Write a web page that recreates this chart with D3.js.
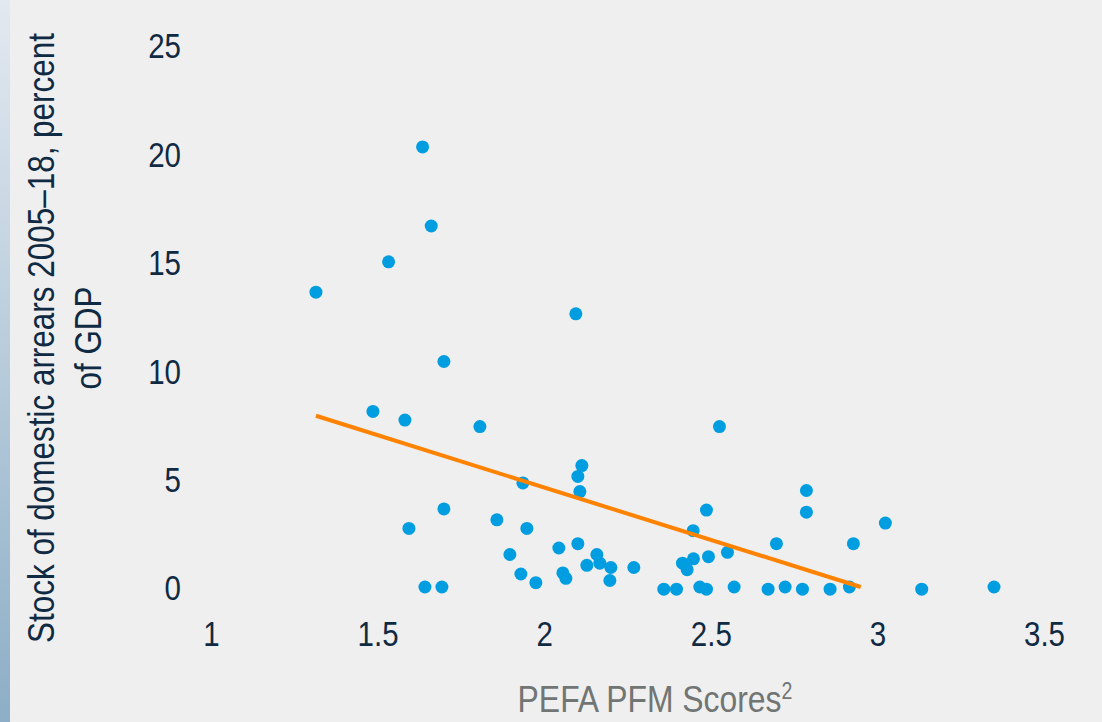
<!DOCTYPE html>
<html>
<head>
<meta charset="utf-8">
<script src="https://cdn.jsdelivr.net/npm/d3@7"></script>
<style>
  body { margin: 0; background: #efefef; }
  #chart { width: 1102px; height: 722px; }
  text { font-family: 'Liberation Sans', Arial, sans-serif; }
</style>
</head>
<body>
<div id="chart"></div>
<script>
// ------------- Data ---------------------------------------- //
const pefaScores = [
  1.315, 1.533, 1.635, 1.661, 1.486, 1.582, 1.699, 1.807, 1.594, 1.699,
  1.642, 1.693, 2.095, 1.936, 2.113, 2.101, 2.107, 1.858, 1.948, 1.897,
  1.930, 1.975, 2.044, 2.101, 2.056, 2.065, 2.128, 2.158, 2.167, 2.200,
  2.197, 2.269, 2.526, 2.787, 2.787, 2.487, 2.447, 3.024, 2.697, 2.928,
  2.550, 2.493, 2.448, 2.415, 2.429, 2.359, 2.397, 2.467, 2.487, 2.570,
  2.672, 2.723, 2.775, 2.858, 2.916, 3.133, 3.350
];
const arrears = [
  13.6, 15.0, 20.3, 16.65, 8.1, 7.7, 10.4, 7.4, 2.7, 3.6,
  0.0, 0.0, 12.6, 4.8, 5.6, 5.1, 4.4, 3.1, 2.7, 1.5,
  0.6, 0.2, 1.8, 2.0, 0.65, 0.4, 1.0, 1.5, 1.1, 0.9,
  0.3, 0.9, 7.4, 4.45, 3.45, 3.55, 2.6, 2.95, 2.0, 2.0,
  1.6, 1.4, 1.3, 1.1, 0.8, -0.1, -0.1, 0.0, -0.1, 0.0,
  -0.1, 0.0, -0.1, -0.1, 0.0, -0.1, 0.0
];
// trend line end points
const trendX = [1.315, 2.95];
const trendY = [7.9, 0];

const xTicks = [1, 1.5, 2, 2.5, 3, 3.5];
const yTicks = [0, 5, 10, 15, 20, 25];

const xTitle = 'PEFA PFM Scores';
const yTitle = ['Stock of domestic arrears 2005\u201318, percent', 'of GDP'];

// narrow look: squeeze Liberation Sans horizontally
const narrow = 0.82;
const narrowTitle = 0.85;

// ------------- Layout ----------------- //
const W = 1102, H = 722;
const svg = d3.select('#chart').append('svg')
  .attr('width', W)
  .attr('height', H);

const defs = svg.append('defs');
const grad = defs.append('linearGradient')
  .attr('id', 'edge')
  .attr('x1', 0).attr('y1', 0).attr('x2', 0).attr('y2', 1);
grad.append('stop').attr('offset', '0%').attr('stop-color', '#e2e9f0');
grad.append('stop').attr('offset', '100%').attr('stop-color', '#8daec6');

svg.append('rect').attr('width', W).attr('height', H).attr('fill', '#efefef');
svg.append('rect').attr('x', 0).attr('y', 0).attr('width', 10).attr('height', H).attr('fill', 'url(#edge)');

const x = d3.scaleLinear().domain([1, 3.5]).range([211, 1044]);
const y = d3.scaleLinear().domain([0, 25]).range([587, 45]);

// y axis labels
const yAxis = d3.axisLeft(y).tickValues(yTicks).tickSize(0).tickPadding(0).tickFormat(d3.format('d'));
svg.append('g')
  .attr('transform', 'translate(181,0)')
  .call(yAxis)
  .call(g => g.select('.domain').remove())
  .selectAll('text')
  .attr('font-size', 36)
  .attr('fill', '#0f2a42')
  .attr('dy', '0.36em')
  .attr('transform', `scale(${narrow},1)`)
  .style('font-family', null);

// x axis labels
const xAxis = d3.axisBottom(x).tickValues(xTicks).tickSize(0).tickPadding(0).tickFormat(d => d);
svg.append('g')
  .attr('transform', 'translate(0,620)')
  .call(xAxis)
  .call(g => g.select('.domain').remove())
  .selectAll('text')
  .attr('font-size', 36)
  .attr('fill', '#0f2a42')
  .attr('dy', '0.72em')
  .attr('transform', `scale(${narrow},1)`)
  .style('font-family', null);

// axis titles
const yt = svg.append('text')
  .attr('transform', `translate(54,338) rotate(-90) scale(${narrowTitle},1)`)
  .attr('text-anchor', 'middle')
  .attr('font-size', 37)
  .attr('fill', '#0f2a42');
yTitle.forEach((line, i) => {
  yt.append('tspan').attr('x', 0).attr('dy', i === 0 ? 0 : 47).text(line);
});

const xt = svg.append('text')
  .attr('transform', `translate(655,712) scale(${narrowTitle},1)`)
  .attr('text-anchor', 'middle')
  .attr('font-size', 37.5)
  .attr('fill', '#717573');
xt.append('tspan').text(xTitle);
xt.append('tspan').attr('font-size', 23).attr('dy', -13).text('2');

// points
const pts = pefaScores.map((v, i) => ({ x: v, y: arrears[i] }));
svg.append('g')
  .selectAll('circle')
  .data(pts)
  .join('circle')
  .attr('cx', d => x(d.x))
  .attr('cy', d => y(d.y))
  .attr('r', 6.5)
  .attr('fill', '#009ee0');

// trend line
svg.append('path')
  .datum(trendX.map((v, i) => [v, trendY[i]]))
  .attr('fill', 'none')
  .attr('stroke', '#ff8200')
  .attr('stroke-width', 4)
  .attr('d', d3.line().x(d => x(d[0])).y(d => y(d[1])));
</script>
</body>
</html>
